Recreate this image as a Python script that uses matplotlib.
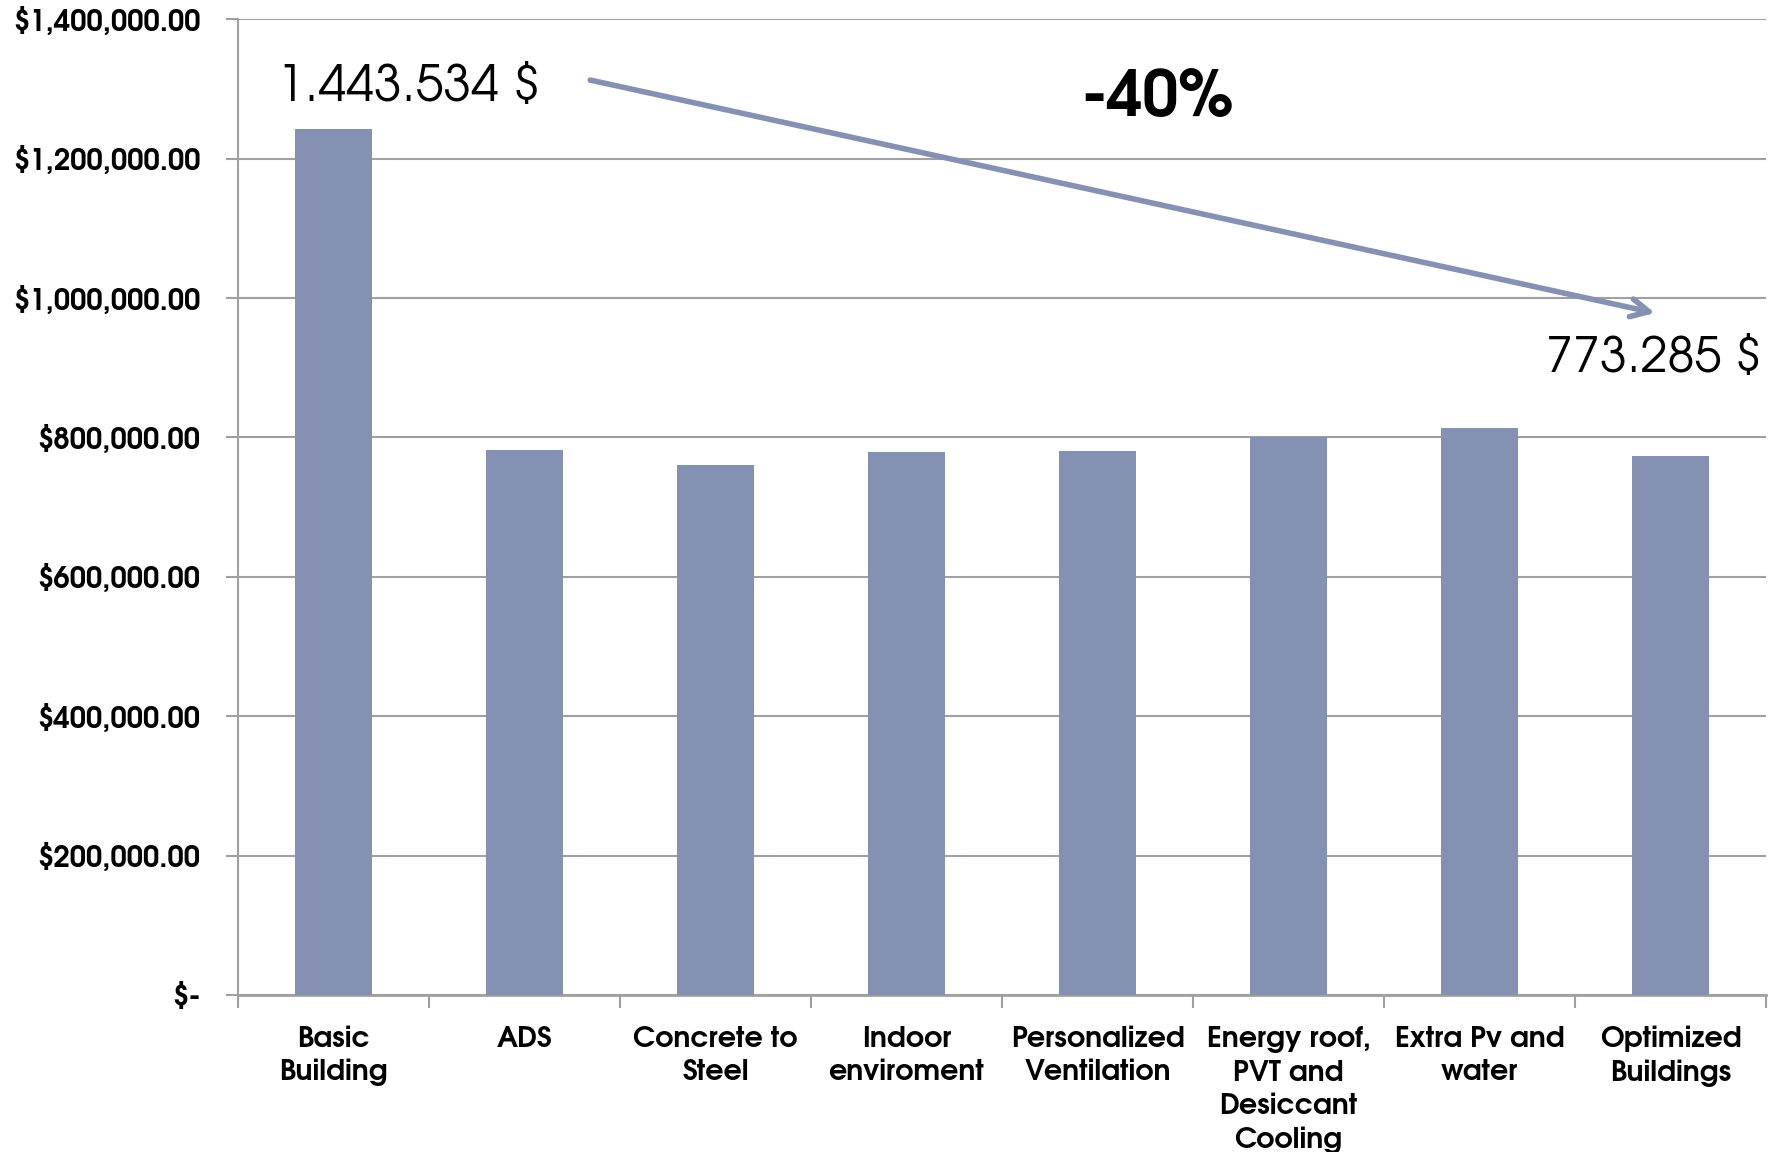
import matplotlib
matplotlib.use("Agg")
import matplotlib.pyplot as plt
from matplotlib.ticker import FuncFormatter, MultipleLocator, FixedLocator

# данные
categories = ["Basic\nBuilding", "ADS", "Concrete to\nSteel", "Indoor\nenviroment",
              "Personalized\nVentilation", "Energy roof,\nPVT and\nDesiccant\nCooling",
              "Extra Pv and\nwater", "Optimized\nBuildings"]
costs = [1243000, 782000, 760000, 779000, 781000, 800000, 813000, 773000]

start_label = "1.443.534 $"
end_label = "773.285 $"
change_label = "-40%"

bar_color = "#8491b3"
grid_color = "#a0a0a0"
font = "TeX Gyre Adventor"


def money(v, pos):
    if v == 0:
        return "$-"
    return "${:,.2f}".format(v)


fig = plt.figure(figsize=(17.77, 11.52), dpi=100)
ax = fig.add_axes([0.134, 0.1363, 0.8598, 0.8469])

x = list(range(len(categories)))
ax.bar(x, costs, width=0.4, color=bar_color, zorder=3)

ax.set_xlim(-0.5, len(categories) - 0.5)
ax.set_ylim(0, 1400000)
ax.yaxis.set_major_locator(MultipleLocator(200000))
ax.yaxis.set_major_formatter(FuncFormatter(money))
ax.grid(axis="y", color=grid_color, linewidth=1.5, zorder=0)

# тики по границам категорий, подписи по центрам
ax.xaxis.set_major_locator(FixedLocator([i - 0.5 for i in range(len(categories) + 1)]))
ax.set_xticklabels([])
ax.set_xticks(x, categories, minor=True)
ax.tick_params(axis="x", which="minor", length=0, pad=22)
ax.tick_params(axis="x", which="major", length=9, width=1.5, color=grid_color)
ax.tick_params(axis="y", length=9, width=1.5, color=grid_color, pad=18)

for lbl in ax.get_xticklabels(minor=True):
    lbl.set_fontfamily(font)
    lbl.set_fontweight("bold")
    lbl.set_fontsize(20.5)
    lbl.set_linespacing(1.35)
    lbl.set_verticalalignment("top")
for lbl in ax.get_yticklabels():
    lbl.set_fontfamily(font)
    lbl.set_fontweight("bold")
    lbl.set_fontsize(21)

for side in ["top", "right"]:
    ax.spines[side].set_visible(False)
ax.spines["left"].set_color(grid_color)
ax.spines["bottom"].set_color(grid_color)
ax.spines["left"].set_linewidth(1.5)
ax.spines["bottom"].set_linewidth(2)

# подписи и стрелка
ax.text(0.1116, 0.930, start_label, transform=ax.transAxes, ha="center", va="center",
        fontsize=36, family=font)
ax.text(0.997, 0.652, end_label, transform=ax.transAxes, ha="right", va="center",
        fontsize=35, family=font)
ax.text(0.6014, 0.919, change_label, transform=ax.transAxes, ha="center", va="center",
        fontsize=46, family=font, fontweight="bold")
ax.annotate("", xy=(0.9274, 0.699), xytext=(0.2304, 0.9378),
            xycoords="axes fraction", textcoords="axes fraction",
            arrowprops=dict(arrowstyle="->,head_length=1.3,head_width=0.65",
                            color=bar_color, lw=4, shrinkA=0, shrinkB=0))

fig.savefig("out.png")
